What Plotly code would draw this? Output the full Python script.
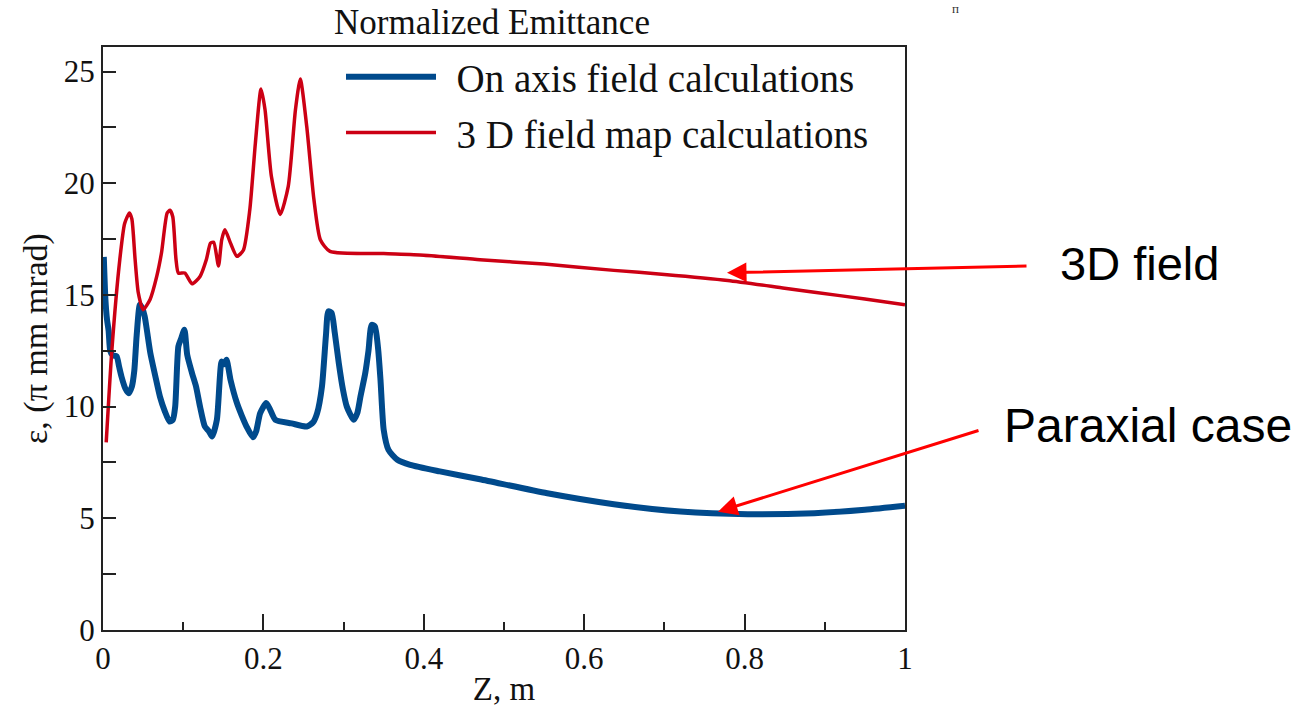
import plotly.graph_objects as go

# ---- data ----
z_on_axis = [0.001, 0.003, 0.005, 0.007, 0.009, 0.012, 0.017, 0.020, 0.023, 0.028,
             0.032, 0.036, 0.039, 0.042, 0.046, 0.049, 0.052, 0.059, 0.065, 0.071,
             0.077, 0.083, 0.087, 0.090, 0.094, 0.097, 0.1015, 0.105, 0.111, 0.116,
             0.121, 0.127, 0.132, 0.136, 0.142, 0.148, 0.151, 0.154, 0.159, 0.167,
             0.173, 0.179, 0.187, 0.191, 0.196, 0.2035, 0.208, 0.215, 0.235, 0.254,
             0.262, 0.267, 0.273, 0.278, 0.281, 0.285, 0.289, 0.294, 0.299, 0.304,
             0.3125, 0.317, 0.321, 0.327, 0.331, 0.335, 0.339, 0.343, 0.346, 0.350,
             0.356, 0.367, 0.383, 0.42, 0.47, 0.554, 0.637, 0.72, 0.804, 0.887,
             0.95, 1.0]
eps_on_axis = [16.7, 14.8, 13.9, 13.4, 12.5, 12.3, 12.25, 11.8, 11.35, 10.8,
               10.6, 10.9, 11.6, 13.2, 14.56, 14.4, 14.04, 12.4, 11.4, 10.45,
               9.8, 9.33, 9.4, 10.0, 12.7, 13.0, 13.44, 12.32, 11.5, 10.9,
               10.0, 9.11, 8.9, 8.66, 9.41, 12.02, 11.9, 12.1, 11.2, 10.16,
               9.6, 9.11, 8.63, 8.9, 9.71, 10.16, 9.9, 9.41, 9.25, 9.11,
               9.3, 9.71, 10.9, 13.2, 14.27, 14.2, 13.3, 11.95, 10.8, 10.0,
               9.41, 9.7, 10.45, 11.5, 12.5, 13.66, 13.59, 12.6, 11.2, 8.96,
               8.06, 7.62, 7.39, 7.1, 6.75, 6.12, 5.63, 5.3, 5.18, 5.23,
               5.38, 5.56]

z_3d = [0.004, 0.011, 0.021, 0.027, 0.033, 0.036, 0.040, 0.044, 0.050, 0.0587,
        0.067, 0.073, 0.080, 0.0836, 0.087, 0.091, 0.094, 0.102, 0.111, 0.121,
        0.129, 0.134, 0.138, 0.144, 0.148, 0.152, 0.159, 0.167, 0.175, 0.183,
        0.190, 0.197, 0.202, 0.210, 0.221, 0.231, 0.240, 0.246, 0.254, 0.263,
        0.271, 0.283, 0.35, 0.40, 0.47, 0.55, 0.637, 0.70, 0.779, 0.85,
        0.887, 0.95, 1.0]
eps_3d = [8.4, 12.5, 16.6, 18.2, 18.67, 18.4, 16.6, 15.1, 14.34, 14.8,
          15.83, 16.9, 18.67, 18.79, 18.5, 16.6, 15.98, 15.98, 15.5, 15.83,
          16.6, 17.32, 17.36, 16.3, 17.47, 17.92, 17.32, 16.73, 17.0, 18.8,
          21.8, 24.22, 23.3, 20.3, 18.6, 19.86, 23.3, 24.67, 22.55, 19.27,
          17.47, 16.95, 16.85, 16.78, 16.58, 16.38, 16.1, 15.92, 15.65, 15.3,
          15.12, 14.82, 14.56]

x_ticks = [0, 0.2, 0.4, 0.6, 0.8, 1.0]
x_tick_text = ["0", "0.2", "0.4", "0.6", "0.8", "1"]
y_ticks = [0, 5, 10, 15, 20, 25]

# ---- layout geometry (pixels) ----
W, H = 1308, 712
L, R, T, B = 103, 905, 47, 630


def px(xp):
    return (xp - L) / (R - L)


def py(yp):
    return (B - yp) / (B - T)


SERIF = "Liberation Serif, Times New Roman, serif"
SANS = "Liberation Sans, Arial, sans-serif"
PAD = "\u2009\u2009"

fig = go.Figure()
fig.add_trace(go.Scatter(x=z_on_axis, y=eps_on_axis, mode="lines",
                         name=PAD + "On axis field calculations",
                         line=dict(color="#004a8c", width=6, shape="spline", smoothing=0.6),
                         legendgroup="a"))
fig.add_trace(go.Scatter(x=z_3d, y=eps_3d, mode="lines",
                         name=PAD + "3 D field map calculations",
                         line=dict(color="#cc0014", width=3.5, shape="spline", smoothing=0.6),
                         legendgroup="b"))

axis_common = dict(showline=True, linecolor="#222222", linewidth=2, mirror=True,
                   showgrid=False, zeroline=False, ticks="inside",
                   tickcolor="#222222", tickwidth=1.5,
                   tickfont=dict(family=SERIF, size=31, color="#111111"))

fig.update_xaxes(range=[0, 1], tickvals=x_ticks, ticktext=x_tick_text, ticklen=16,
                 minor=dict(dtick=0.1, ticks="inside", ticklen=8, tickcolor="#222222",
                            tickwidth=1.5, showgrid=False),
                 title=dict(text="Z, m", font=dict(family=SERIF, size=33, color="#111111"),
                            standoff=2),
                 **axis_common)
fig.update_yaxes(range=[0, 26.1], tickvals=y_ticks, ticklen=13,
                 minor=dict(dtick=2.5, ticks="inside", ticklen=13, tickcolor="#222222",
                            tickwidth=1.5, showgrid=False),
                 title=dict(text="ε, (π mm mrad)", font=dict(family=SERIF, size=34, color="#111111"),
                            standoff=6),
                 **axis_common)

annotations = [
    dict(text="3D field", x=px(1139), y=py(263), xref="paper", yref="paper",
         showarrow=False, font=dict(family=SANS, size=47, color="#000000"),
         xanchor="center", yanchor="middle"),
    dict(text="Paraxial case", x=px(1148), y=py(425), xref="paper", yref="paper",
         showarrow=False, font=dict(family=SANS, size=48, color="#000000"),
         xanchor="center", yanchor="middle"),
    dict(text="", x=px(727), y=py(272.7), xref="paper", yref="paper",
         showarrow=True, arrowhead=2, arrowsize=1.3, arrowwidth=3, arrowcolor="#ff0000",
         ax=1028 - 727, ay=266 - 272.7, standoff=0),
    dict(text="", x=px(718), y=py(511.7), xref="paper", yref="paper",
         showarrow=True, arrowhead=2, arrowsize=1.3, arrowwidth=3, arrowcolor="#ff0000",
         ax=980 - 718, ay=430 - 511.7, standoff=0),
    dict(text="п", x=px(955), y=py(0), xref="paper", yref="paper",
         showarrow=False, font=dict(family=SERIF, size=13, color="#333333"),
         xanchor="center", yanchor="top", borderpad=0),
]

fig.update_layout(
    width=W, height=H,
    margin=dict(l=L, r=W - R, t=T, b=H - B),
    plot_bgcolor="white", paper_bgcolor="white",
    title=dict(text="Normalized Emittance", x=px(492), xref="paper",
               y=1 - 22 / H, yref="container", xanchor="center", yanchor="middle",
               font=dict(family=SERIF, size=35, color="#111111")),
    showlegend=True,
    legend=dict(x=px(341), y=py(45), xanchor="left", yanchor="top",
                bgcolor="rgba(0,0,0,0)", borderwidth=0, itemwidth=90,
                tracegroupgap=2,
                font=dict(family=SERIF, size=39, color="#111111")),
    annotations=annotations,
)

fig.write_html("out.html")
